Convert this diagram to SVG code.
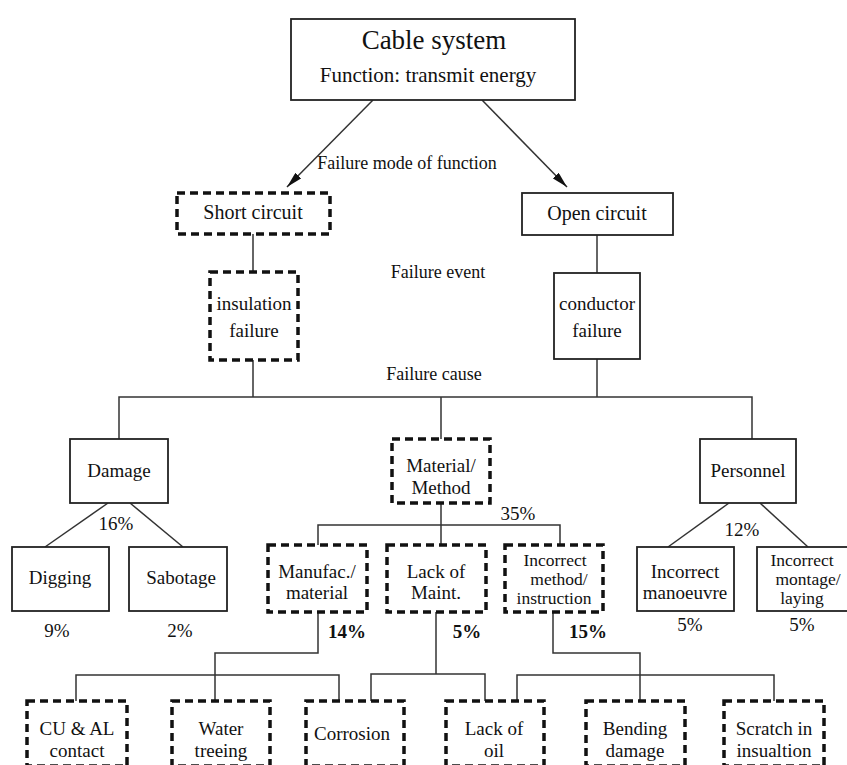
<svg xmlns="http://www.w3.org/2000/svg" width="847" height="765" viewBox="0 0 847 765">
  <defs>
    <marker id="arrow" viewBox="0 0 16 8" refX="16" refY="4" markerWidth="16" markerHeight="8" markerUnits="userSpaceOnUse" orient="auto">
      <path d="M0,0 L16,4 L0,8 z" fill="#111"/>
    </marker>
    <style>
      text { font-family: "Liberation Serif", Tinos, "Times New Roman", "DejaVu Serif", serif; fill: #111; text-anchor: middle; }
      .t { font-size: 19px; }
      .s { font-size: 17.5px; }
      .pct { font-size: 19px; }
      .pb { font-size: 19px; font-weight: bold; }
      .lbl { font-size: 18px; }
      .solid { fill: #fff; stroke: #222; stroke-width: 1.8; }
      .dash { fill: #fff; stroke: #111; stroke-width: 3.5; stroke-dasharray: 8 5; }
      .conn { fill: none; stroke: #333; stroke-width: 1.5; }
    </style>
  </defs>

  <rect width="847" height="765" fill="#fff"/>

  <!-- connectors -->
  <g id="connectors">
    <line class="conn" x1="373" y1="100" x2="287" y2="187" marker-end="url(#arrow)"/>
    <line class="conn" x1="482" y1="100" x2="567" y2="187" marker-end="url(#arrow)"/>
    <line class="conn" x1="253" y1="234" x2="253" y2="272"/>
    <line class="conn" x1="597" y1="235" x2="597" y2="273"/>
    <line class="conn" x1="253" y1="360" x2="253" y2="397"/>
    <line class="conn" x1="597" y1="359" x2="597" y2="397"/>
    <polyline class="conn" points="119,439 119,397 752,397 752,439"/>
    <line class="conn" x1="441" y1="397" x2="441" y2="439"/>
    <!-- damage branch -->
    <line class="conn" x1="108" y1="503" x2="45" y2="547"/>
    <line class="conn" x1="130" y1="503" x2="183" y2="547"/>
    <!-- personnel branch -->
    <line class="conn" x1="729" y1="503" x2="668" y2="547"/>
    <line class="conn" x1="760" y1="503" x2="808" y2="547"/>
    <!-- material/method branch -->
    <line class="conn" x1="441" y1="503" x2="441" y2="545"/>
    <polyline class="conn" points="318,545 318,525 560,525 560,545"/>
    <!-- lowest level -->
    <polyline class="conn" points="318,612 318,653 215,653 215,701"/>
    <polyline class="conn" points="76,701 76,675 339,675 339,701"/>
    <line class="conn" x1="436" y1="612" x2="436" y2="674"/>
    <polyline class="conn" points="371,701 371,674 485,674 485,701"/>
    <polyline class="conn" points="553,612 553,653 640,653 640,701"/>
    <polyline class="conn" points="517,701 517,675 774,675 774,701"/>
  </g>

  <!-- level labels -->
  <text class="lbl" x="407" y="169">Failure mode of function</text>
  <text class="lbl" x="438" y="278">Failure event</text>
  <text class="lbl" x="434" y="380">Failure cause</text>

  <g id="cable-system">
    <rect class="solid" x="291" y="19" width="284" height="81"/>
    <text x="434" y="49" style="font-size:27px">Cable system</text>
    <text x="428" y="82" style="font-size:21px">Function: transmit energy</text>
  </g>

  <g id="short-circuit">
    <rect class="dash" x="177" y="193" width="153" height="41"/>
    <text x="253" y="219" style="font-size:20px">Short circuit</text>
  </g>

  <g id="open-circuit">
    <rect class="solid" x="522" y="193" width="151" height="42"/>
    <text x="597" y="220" style="font-size:20px">Open circuit</text>
  </g>

  <g id="insulation-failure">
    <rect class="dash" x="210" y="272" width="88" height="88"/>
    <text class="t" x="254" y="310">insulation</text>
    <text class="t" x="254" y="337">failure</text>
  </g>

  <g id="conductor-failure">
    <rect class="solid" x="554" y="273" width="86" height="86"/>
    <text class="t" x="597" y="310">conductor</text>
    <text class="t" x="597" y="337">failure</text>
  </g>

  <g id="damage">
    <rect class="solid" x="70" y="439" width="98" height="64"/>
    <text class="t" x="119" y="477">Damage</text>
  </g>

  <g id="material-method">
    <rect class="dash" x="392" y="439" width="98" height="64"/>
    <text class="t" x="441" y="472">Material/</text>
    <text class="t" x="441" y="494">Method</text>
  </g>

  <g id="personnel">
    <rect class="solid" x="700" y="439" width="96" height="64"/>
    <text class="t" x="748" y="477">Personnel</text>
  </g>

  <g id="digging">
    <rect class="solid" x="12" y="547" width="97" height="64"/>
    <text class="t" x="60" y="584">Digging</text>
  </g>

  <g id="sabotage">
    <rect class="solid" x="129" y="547" width="98" height="64"/>
    <text class="t" x="181" y="584">Sabotage</text>
  </g>

  <g id="manufac-material">
    <rect class="dash" x="268" y="545" width="99" height="67"/>
    <text class="t" x="317" y="578">Manufac./</text>
    <text class="t" x="317" y="599">material</text>
  </g>

  <g id="lack-of-maint">
    <rect class="dash" x="387" y="545" width="99" height="67"/>
    <text class="t" x="436" y="578">Lack of</text>
    <text class="t" x="436" y="599">Maint.</text>
  </g>

  <g id="incorrect-method">
    <rect class="dash" x="505" y="545" width="98" height="67"/>
    <text class="s" x="555" y="566">Incorrect</text>
    <text class="s" x="559" y="585">method/</text>
    <text class="s" x="554" y="604">instruction</text>
  </g>

  <g id="incorrect-manoeuvre">
    <rect class="solid" x="637" y="547" width="97" height="64"/>
    <text class="t" x="685" y="578">Incorrect</text>
    <text class="t" x="685" y="599">manoeuvre</text>
  </g>

  <g id="incorrect-montage">
    <rect class="solid" x="757" y="547" width="96" height="64"/>
    <text class="s" x="802" y="566">Incorrect</text>
    <text class="s" x="808" y="585">montage/</text>
    <text class="s" x="802" y="604">laying</text>
  </g>

  <!-- percentages -->
  <text class="pct" x="116" y="530">16%</text>
  <text class="pct" x="518" y="520">35%</text>
  <text class="pct" x="742" y="536">12%</text>
  <text class="pct" x="57" y="637">9%</text>
  <text class="pct" x="180" y="637">2%</text>
  <text class="pb" x="347" y="638">14%</text>
  <text class="pb" x="467" y="638">5%</text>
  <text class="pb" x="588" y="638">15%</text>
  <text class="pct" x="690" y="631">5%</text>
  <text class="pct" x="802" y="631">5%</text>

  <g id="cu-al-contact">
    <rect class="dash" x="27" y="701" width="100" height="65"/>
    <text class="t" x="77" y="735">CU &amp; AL</text>
    <text class="t" x="77" y="757">contact</text>
  </g>

  <g id="water-treeing">
    <rect class="dash" x="172" y="701" width="98" height="65"/>
    <text class="t" x="221" y="735">Water</text>
    <text class="t" x="221" y="757">treeing</text>
  </g>

  <g id="corrosion">
    <rect class="dash" x="306" y="701" width="98" height="65"/>
    <text class="t" x="352" y="740">Corrosion</text>
  </g>

  <g id="lack-of-oil">
    <rect class="dash" x="446" y="701" width="98" height="65"/>
    <text class="t" x="494" y="735">Lack of</text>
    <text class="t" x="494" y="757">oil</text>
  </g>

  <g id="bending-damage">
    <rect class="dash" x="586" y="701" width="99" height="65"/>
    <text class="t" x="635" y="735">Bending</text>
    <text class="t" x="635" y="757">damage</text>
  </g>

  <g id="scratch-insulation">
    <rect class="dash" x="724" y="701" width="100" height="65"/>
    <text class="t" x="774" y="735">Scratch in</text>
    <text class="t" x="774" y="757">insualtion</text>
  </g>
</svg>
